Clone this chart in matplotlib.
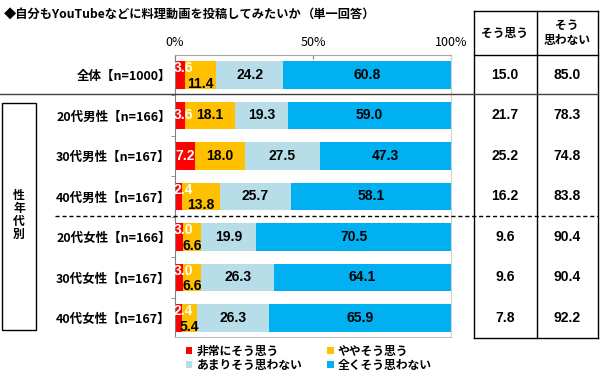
import matplotlib.pyplot as plt
import matplotlib.transforms as mtransforms
from matplotlib.lines import Line2D
from matplotlib.patches import Rectangle
import numpy as np

plt.rcParams['font.family'] = ['Noto Sans CJK JP', 'DejaVu Sans']

groups = ['全体【n=1000】', '20代男性【n=166】', '30代男性【n=167】', '40代男性【n=167】',
          '20代女性【n=166】', '30代女性【n=167】', '40代女性【n=167】']
answers = ['非常にそう思う', 'ややそう思う', 'あまりそう思わない', '全くそう思わない']
very = [3.6, 3.6, 7.2, 2.4, 3.0, 3.0, 2.4]
some = [11.4, 18.1, 18.0, 13.8, 6.6, 6.6, 5.4]
little = [24.2, 19.3, 27.5, 25.7, 19.9, 26.3, 26.3]
never = [60.8, 59.0, 47.3, 58.1, 70.5, 64.1, 65.9]
agree = [15.0, 21.7, 25.2, 16.2, 9.6, 9.6, 7.8]
disagree = [85.0, 78.3, 74.8, 83.8, 90.4, 90.4, 92.2]
colors = ['#FF0000', '#FFC000', '#B7DEE8', '#00B0F0']
title = '◆自分もYouTubeなどに料理動画を投稿してみたいか'
subtitle = '（単一回答）'
table_head = ['そう思う', 'そう\n思わない']
side_label = '性年代別'

W, H = 600, 377
fig = plt.figure(figsize=(6, 3.77), dpi=100)


def fx(x):
    return x / W


def fy(y):
    return 1 - y / H


def fline(x0, x1, y0, y1, **kw):
    fig.add_artist(Line2D([fx(x0), fx(x1)], [fy(y0), fy(y1)],
                          transform=fig.transFigure, **kw))


ax = fig.add_axes([fx(175), fy(337), 276 / W, 282 / H])
y = np.arange(len(groups))
left = np.zeros(len(groups))
bars = []
for vals, c, name in zip([very, some, little, never], colors, answers):
    bars.append(ax.barh(y, vals, left=left, height=0.67, color=c, label=name))
    left += np.array(vals)

num = dict(fontsize=10, family=['Liberation Sans', 'DejaVu Sans'], fontweight='bold',
           ha='center', va='center')
for i in range(len(groups)):
    split = some[i] < 15
    ax.text(max(very[i] / 2, 3.0), i - 0.17 if split else i, f'{very[i]:.1f}', color='white', **num)
    ax.text(very[i] + some[i] / 2, i + 0.22 if split else i, f'{some[i]:.1f}', color='black', **num)
    s = very[i] + some[i]
    ax.text(s + little[i] / 2, i, f'{little[i]:.1f}', color='black', **num)
    s += little[i]
    ax.text(s + never[i] / 2, i, f'{never[i]:.1f}', color='black', **num)

ax.set_xlim(0, 100)
ax.set_ylim(6.47, -0.494)
ax.xaxis.tick_top()
ax.set_xticks([0, 50, 100], ['0%', '50%', '100%'])
ax.tick_params(axis='x', direction='in', length=3, pad=4, labelsize=9, colors='#808080', labelcolor='black')
ax.set_yticks(y, groups)
ax.set_yticks(y[:-1] + 0.5, minor=True)
ax.tick_params(axis='y', which='major', length=0, pad=3, labelsize=9)
ax.tick_params(axis='y', which='minor', length=3, color='#808080')
for lab in ax.get_yticklabels():
    lab.set_fontweight('bold')
ax.spines['top'].set_color('#A6A6A6')
ax.spines['left'].set_color('#808080')
ax.spines['right'].set_color('#D0D0D0')
ax.spines['bottom'].set_color('#C0C0C0')

# title
fig.text(fx(4), fy(14), title, fontsize=8.8, fontweight='bold', va='center')
fig.text(fx(302), fy(14), subtitle, fontsize=8.8, fontweight='bold', va='center')

# table on the right
trans = mtransforms.blended_transform_factory(fig.transFigure, ax.transData)
for i in range(len(groups)):
    ax.text(fx(505), i, f'{agree[i]:.1f}', transform=trans, **num)
    ax.text(fx(567), i, f'{disagree[i]:.1f}', transform=trans, **num)
fig.text(fx(505), fy(33), table_head[0], fontsize=8.5, fontweight='bold', ha='center', va='center')
fig.text(fx(567), fy(33), table_head[1], fontsize=8.5, fontweight='bold', ha='center', va='center',
         linespacing=1.15)
for xv in [474, 537, 598]:
    fline(xv, xv, 11, 338, color='black', lw=1)
fline(474, 598, 11, 11, color='black', lw=1)
fline(474, 598, 55, 55, color='black', lw=1)
fline(474, 598, 338, 338, color='black', lw=1)

# separators
fline(0, 598, 94, 94, color='#404040', lw=1)
fline(55, 598, 216, 216, color='black', lw=1, ls=(0, (3, 2)))

# side box
fig.add_artist(Rectangle((fx(2), fy(330)), fx(34), 227 / H, transform=fig.transFigure,
                         fill=False, edgecolor='black', lw=1))
fig.text(fx(19), fy(215), '\n'.join(side_label), fontsize=8.5, fontweight='bold',
         ha='center', va='center', linespacing=1.0)

# legend
fig.legend(handles=[bars[0], bars[2], bars[1], bars[3]],
           labels=[answers[0], answers[2], answers[1], answers[3]],
           ncol=2, loc='upper left', bbox_to_anchor=(fx(186), fy(345)), frameon=False,
           prop={'weight': 'bold', 'size': 8.5}, handlelength=0.55, handleheight=0.55,
           handletextpad=0.35, labelspacing=0.05, columnspacing=2.1,
           borderaxespad=0, borderpad=0)

fig.savefig('out.png', dpi=100)
